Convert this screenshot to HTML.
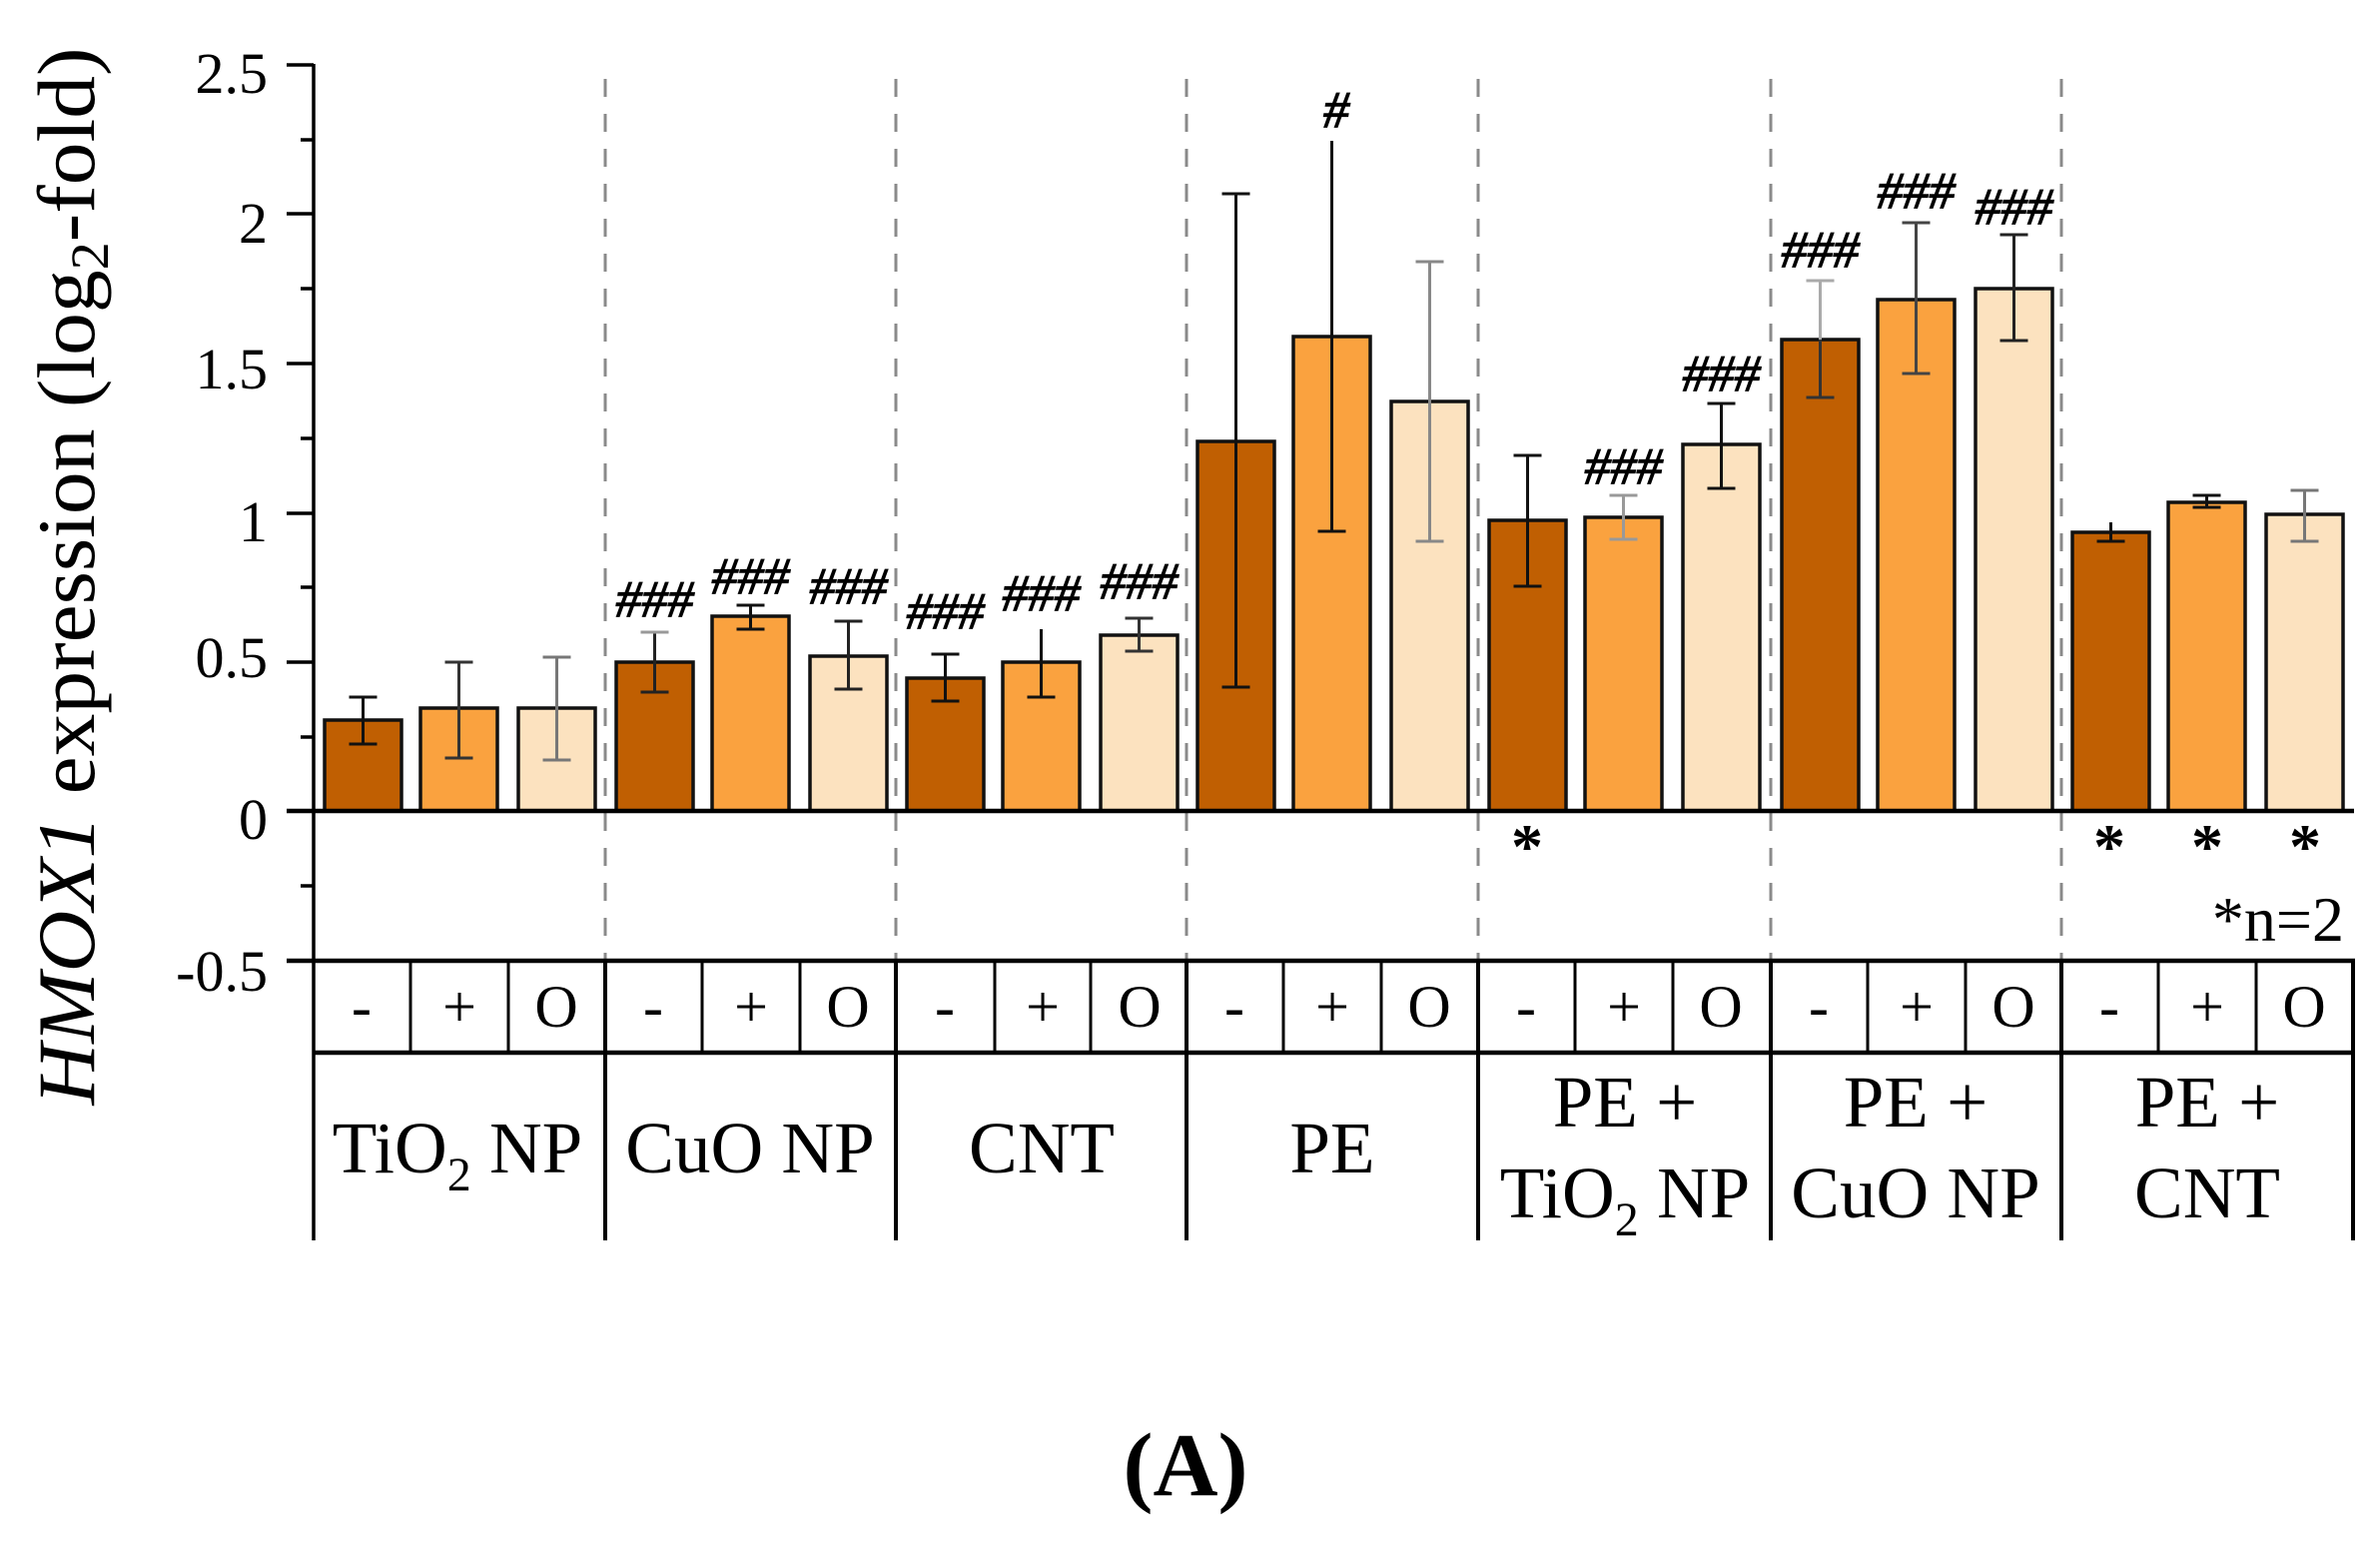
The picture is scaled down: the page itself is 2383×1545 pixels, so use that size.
<!DOCTYPE html>
<html>
<head>
<meta charset="utf-8">
<style>
html,body{margin:0;padding:0;background:#fff;}
svg{display:block;}
text{font-family:"Liberation Serif","Times New Roman",serif;fill:#000;}
</style>
</head>
<body>
<svg width="2383" height="1545" viewBox="0 0 2383 1545" xmlns="http://www.w3.org/2000/svg">
<rect x="0" y="0" width="2383" height="1545" fill="#fff"/>

<!-- dashed group separators -->
<g stroke="#8a8a8a" stroke-width="3" stroke-dasharray="18 17">
<line x1="606" y1="79" x2="606" y2="962"/>
<line x1="897" y1="79" x2="897" y2="962"/>
<line x1="1188" y1="79" x2="1188" y2="962"/>
<line x1="1480" y1="79" x2="1480" y2="962"/>
<line x1="1773" y1="79" x2="1773" y2="962"/>
<line x1="2064" y1="79" x2="2064" y2="962"/>
</g>

<!-- bars -->
<g stroke="#111" stroke-width="3.5">
<rect x="325" y="721" width="77" height="91" fill="#C05F02"/>
<rect x="421" y="709" width="77" height="103" fill="#FAA23F"/>
<rect x="519" y="709" width="77" height="103" fill="#FCE2BF"/>

<rect x="617" y="663" width="77" height="149" fill="#C05F02"/>
<rect x="713" y="617" width="77" height="195" fill="#FAA23F"/>
<rect x="811" y="657" width="77" height="155" fill="#FCE2BF"/>

<rect x="908" y="679" width="77" height="133" fill="#C05F02"/>
<rect x="1004" y="663" width="77" height="149" fill="#FAA23F"/>
<rect x="1102" y="636" width="77" height="176" fill="#FCE2BF"/>

<rect x="1199" y="442" width="77" height="370" fill="#C05F02"/>
<rect x="1295" y="337" width="77" height="475" fill="#FAA23F"/>
<rect x="1393" y="402" width="77" height="410" fill="#FCE2BF"/>

<rect x="1491" y="521" width="77" height="291" fill="#C05F02"/>
<rect x="1587" y="518" width="77" height="294" fill="#FAA23F"/>
<rect x="1685" y="445" width="77" height="367" fill="#FCE2BF"/>

<rect x="1784" y="340" width="77" height="472" fill="#C05F02"/>
<rect x="1880" y="300" width="77" height="512" fill="#FAA23F"/>
<rect x="1978" y="289" width="77" height="523" fill="#FCE2BF"/>

<rect x="2075" y="533" width="77" height="279" fill="#C05F02"/>
<rect x="2171" y="503" width="77" height="309" fill="#FAA23F"/>
<rect x="2269" y="515" width="77" height="297" fill="#FCE2BF"/>
</g>

<!-- error bars -->
<g stroke-width="3" fill="none">
<g stroke="#111"><line x1="363.5" y1="698" x2="363.5" y2="745"/><line x1="349.5" y1="698" x2="377.5" y2="698"/><line x1="349.5" y1="745" x2="377.5" y2="745"/></g>
<g stroke="#333"><line x1="459.5" y1="663" x2="459.5" y2="759"/><line x1="445.5" y1="663" x2="473.5" y2="663"/><line x1="445.5" y1="759" x2="473.5" y2="759"/></g>
<g stroke="#777"><line x1="557.5" y1="658" x2="557.5" y2="761"/><line x1="543.5" y1="658" x2="571.5" y2="658"/><line x1="543.5" y1="761" x2="571.5" y2="761"/></g>

<g stroke="#222"><line x1="655.5" y1="633" x2="655.5" y2="693"/><line x1="641.5" y1="693" x2="669.5" y2="693"/></g>
<line stroke="#999" x1="641.5" y1="633" x2="669.5" y2="633"/>
<g stroke="#111"><line x1="751.5" y1="606" x2="751.5" y2="630"/><line x1="737.5" y1="606" x2="765.5" y2="606"/><line x1="737.5" y1="630" x2="765.5" y2="630"/></g>
<g stroke="#222"><line x1="849.5" y1="622" x2="849.5" y2="690"/><line x1="835.5" y1="622" x2="863.5" y2="622"/><line x1="835.5" y1="690" x2="863.5" y2="690"/></g>

<g stroke="#111"><line x1="946.5" y1="655" x2="946.5" y2="702"/><line x1="932.5" y1="655" x2="960.5" y2="655"/><line x1="932.5" y1="702" x2="960.5" y2="702"/></g>
<g stroke="#111"><line x1="1042.5" y1="630" x2="1042.5" y2="698"/><line x1="1028.5" y1="698" x2="1056.5" y2="698"/></g>
<g stroke="#333"><line x1="1140.5" y1="619" x2="1140.5" y2="652"/><line x1="1126.5" y1="619" x2="1154.5" y2="619"/><line x1="1126.5" y1="652" x2="1154.5" y2="652"/></g>

<g stroke="#111"><line x1="1237.5" y1="194" x2="1237.5" y2="688"/><line x1="1223.5" y1="194" x2="1251.5" y2="194"/><line x1="1223.5" y1="688" x2="1251.5" y2="688"/></g>
<g stroke="#111"><line x1="1333.5" y1="141" x2="1333.5" y2="532"/><line x1="1319.5" y1="532" x2="1347.5" y2="532"/></g>
<g stroke="#888"><line x1="1431.5" y1="262" x2="1431.5" y2="542"/><line x1="1417.5" y1="262" x2="1445.5" y2="262"/><line x1="1417.5" y1="542" x2="1445.5" y2="542"/></g>

<g stroke="#111"><line x1="1529.5" y1="456" x2="1529.5" y2="587"/><line x1="1515.5" y1="456" x2="1543.5" y2="456"/><line x1="1515.5" y1="587" x2="1543.5" y2="587"/></g>
<g stroke="#999"><line x1="1625.5" y1="496" x2="1625.5" y2="540"/><line x1="1611.5" y1="496" x2="1639.5" y2="496"/><line x1="1611.5" y1="540" x2="1639.5" y2="540"/></g>
<g stroke="#111"><line x1="1723.5" y1="404" x2="1723.5" y2="489"/><line x1="1709.5" y1="404" x2="1737.5" y2="404"/><line x1="1709.5" y1="489" x2="1737.5" y2="489"/></g>

<line stroke="#aaa" x1="1822.5" y1="281" x2="1822.5" y2="340"/><line stroke="#aaa" x1="1808.5" y1="281" x2="1836.5" y2="281"/>
<g stroke="#333"><line x1="1822.5" y1="340" x2="1822.5" y2="398"/><line x1="1808.5" y1="398" x2="1836.5" y2="398"/></g>
<g stroke="#444"><line x1="1918.5" y1="223" x2="1918.5" y2="374"/><line x1="1904.5" y1="223" x2="1932.5" y2="223"/><line x1="1904.5" y1="374" x2="1932.5" y2="374"/></g>
<g stroke="#222"><line x1="2016.5" y1="235" x2="2016.5" y2="341"/><line x1="2002.5" y1="235" x2="2030.5" y2="235"/><line x1="2002.5" y1="341" x2="2030.5" y2="341"/></g>

<g stroke="#111"><line x1="2113.5" y1="523" x2="2113.5" y2="542"/><line x1="2099.5" y1="542" x2="2127.5" y2="542"/></g>
<g stroke="#111"><line x1="2209.5" y1="496" x2="2209.5" y2="508"/><line x1="2195.5" y1="496" x2="2223.5" y2="496"/><line x1="2195.5" y1="508" x2="2223.5" y2="508"/></g>
<g stroke="#777"><line x1="2307.5" y1="491" x2="2307.5" y2="542"/><line x1="2293.5" y1="491" x2="2321.5" y2="491"/><line x1="2293.5" y1="542" x2="2321.5" y2="542"/></g>
</g>

<!-- hash labels -->
<g font-size="52" font-style="italic" text-anchor="middle" stroke="#000" stroke-width="1.2">
<text x="655.5" y="617">###</text>
<text x="751.5" y="594">###</text>
<text x="849.5" y="604">###</text>
<text x="946.5" y="629">###</text>
<text x="1042.5" y="611">###</text>
<text x="1140.5" y="599">###</text>
<text x="1338" y="127">#</text>
<text x="1625.5" y="484">###</text>
<text x="1723.5" y="391">###</text>
<text x="1822.5" y="267">###</text>
<text x="1918.5" y="208">###</text>
<text x="2016.5" y="224">###</text>
</g>

<!-- axes -->
<g stroke="#000" stroke-width="3.5">
<line x1="314" y1="64" x2="314" y2="1242"/>
<line x1="287" y1="65" x2="314" y2="65"/>
<line x1="287" y1="214" x2="314" y2="214"/>
<line x1="287" y1="364" x2="314" y2="364"/>
<line x1="287" y1="514" x2="314" y2="514"/>
<line x1="287" y1="663" x2="314" y2="663"/>
<line x1="301" y1="140" x2="314" y2="140"/>
<line x1="301" y1="289" x2="314" y2="289"/>
<line x1="301" y1="439" x2="314" y2="439"/>
<line x1="301" y1="588" x2="314" y2="588"/>
<line x1="301" y1="738" x2="314" y2="738"/>
<line x1="301" y1="887" x2="314" y2="887"/>
</g>
<g stroke="#000" stroke-width="4.5">
<line x1="287" y1="812" x2="2357" y2="812"/>
<line x1="287" y1="962" x2="2358" y2="962"/>
<line x1="314" y1="1054" x2="2358" y2="1054"/>
</g>
<g stroke="#000" stroke-width="4">
<line x1="606" y1="962" x2="606" y2="1242"/>
<line x1="897" y1="962" x2="897" y2="1242"/>
<line x1="1188" y1="962" x2="1188" y2="1242"/>
<line x1="1480" y1="962" x2="1480" y2="1242"/>
<line x1="1773" y1="962" x2="1773" y2="1242"/>
<line x1="2064" y1="962" x2="2064" y2="1242"/>
<line x1="2356" y1="962" x2="2356" y2="1242"/>
</g>
<g stroke="#000" stroke-width="3">
<line x1="411" y1="962" x2="411" y2="1054"/><line x1="509" y1="962" x2="509" y2="1054"/>
<line x1="703" y1="962" x2="703" y2="1054"/><line x1="801" y1="962" x2="801" y2="1054"/>
<line x1="996" y1="962" x2="996" y2="1054"/><line x1="1092" y1="962" x2="1092" y2="1054"/>
<line x1="1285" y1="962" x2="1285" y2="1054"/><line x1="1383" y1="962" x2="1383" y2="1054"/>
<line x1="1577" y1="962" x2="1577" y2="1054"/><line x1="1675" y1="962" x2="1675" y2="1054"/>
<line x1="1870" y1="962" x2="1870" y2="1054"/><line x1="1968" y1="962" x2="1968" y2="1054"/>
<line x1="2161" y1="962" x2="2161" y2="1054"/><line x1="2259" y1="962" x2="2259" y2="1054"/>
</g>

<!-- tick labels -->
<g font-size="58" text-anchor="end">
<text x="268" y="93">2.5</text>
<text x="268" y="243">2</text>
<text x="268" y="389">1.5</text>
<text x="268" y="542">1</text>
<text x="268" y="678">0.5</text>
<text x="268" y="840">0</text>
<text x="268" y="992">-0.5</text>
</g>

<!-- y axis title -->
<text transform="translate(94,577) rotate(-90)" text-anchor="middle" font-size="82" textLength="1059" lengthAdjust="spacingAndGlyphs"><tspan font-style="italic">HMOX1</tspan> expression (log<tspan font-size="54" dy="14">2</tspan><tspan dy="-14">-fold)</tspan></text>

<!-- asterisks -->
<g font-size="64" font-weight="bold" text-anchor="middle">
<text x="1529" y="869">*</text>
<text x="2112" y="869">*</text>
<text x="2210" y="869">*</text>
<text x="2308" y="869">*</text>
</g>
<text x="2347" y="942" font-size="64" text-anchor="end">*n=2</text>

<!-- sign row -->
<g font-size="60" text-anchor="middle">
<text x="362" y="1028">-</text><text x="460" y="1028">+</text><text x="557" y="1028">O</text>
<text x="654" y="1028">-</text><text x="752" y="1028">+</text><text x="849" y="1028">O</text>
<text x="946" y="1028">-</text><text x="1044" y="1028">+</text><text x="1141" y="1028">O</text>
<text x="1236" y="1028">-</text><text x="1334" y="1028">+</text><text x="1431" y="1028">O</text>
<text x="1528" y="1028">-</text><text x="1626" y="1028">+</text><text x="1723" y="1028">O</text>
<text x="1821" y="1028">-</text><text x="1919" y="1028">+</text><text x="2016" y="1028">O</text>
<text x="2112" y="1028">-</text><text x="2210" y="1028">+</text><text x="2307" y="1028">O</text>
</g>

<!-- group labels -->
<g font-size="73" text-anchor="middle">
<text x="458" y="1174">TiO<tspan font-size="48" dy="18">2</tspan><tspan dy="-18"> NP</tspan></text>
<text x="751" y="1174">CuO NP</text>
<text x="1043" y="1174">CNT</text>
<text x="1334" y="1174">PE</text>
<text x="1627" y="1128">PE +</text>
<text x="1627" y="1219">TiO<tspan font-size="48" dy="18">2</tspan><tspan dy="-18"> NP</tspan></text>
<text x="1918" y="1128">PE +</text>
<text x="1918" y="1219">CuO NP</text>
<text x="2210" y="1128">PE +</text>
<text x="2210" y="1219">CNT</text>
</g>

<!-- panel label -->
<text x="1187" y="1497" font-size="90" font-weight="bold" text-anchor="middle">(A)</text>
</svg>
</body>
</html>
